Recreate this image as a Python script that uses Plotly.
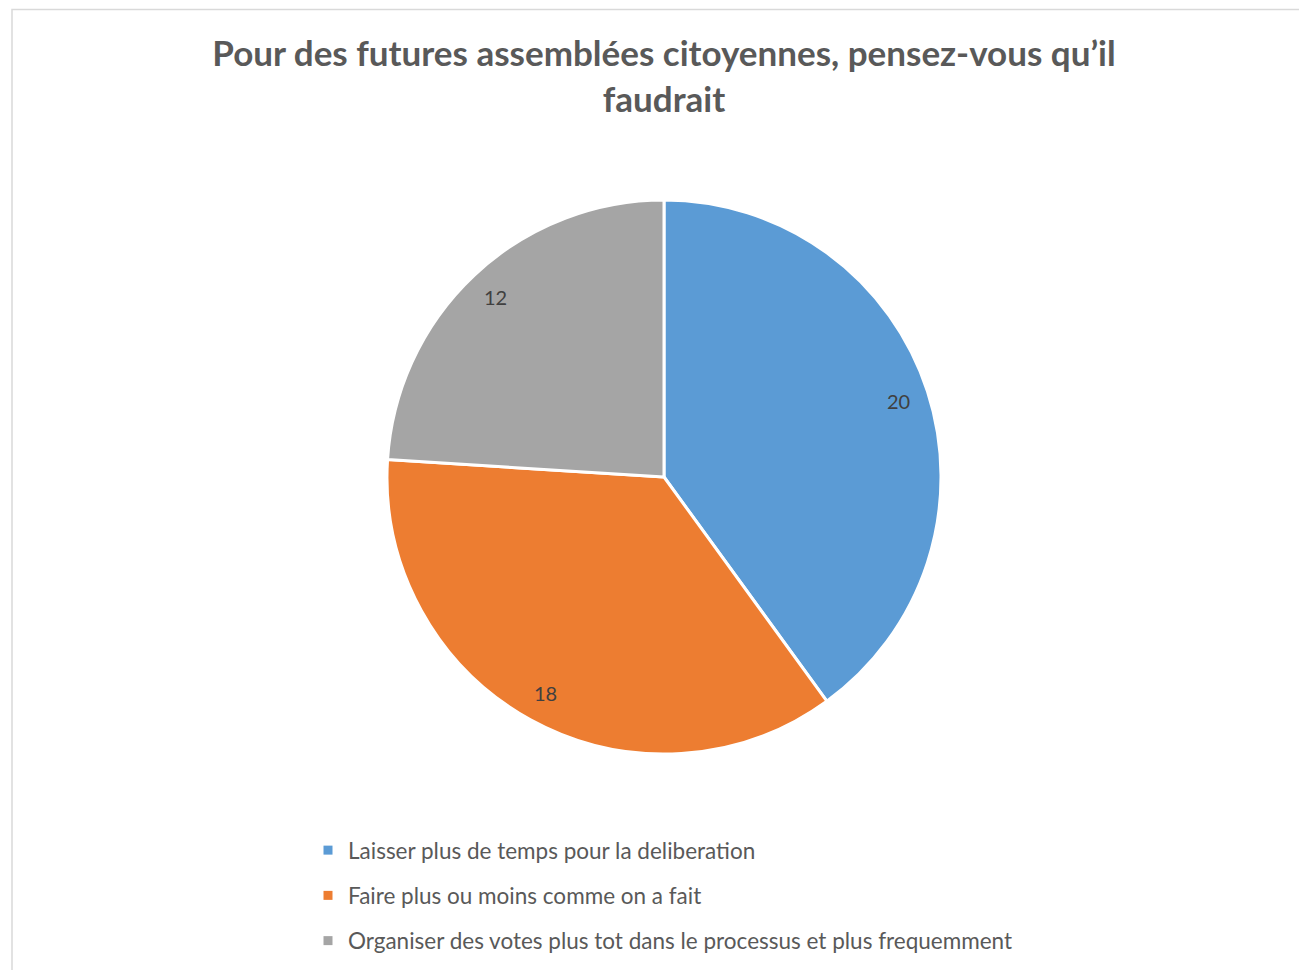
import math
import plotly.graph_objects as go

# ---- data ----
categories = [
    "Laisser plus de temps pour la deliberation",
    "Faire plus ou moins comme on a fait",
    "Organiser des votes plus tot dans le processus et plus frequemment",
]
values = [20, 18, 12]
colors = ["#5B9BD5", "#ED7D31", "#A5A5A5"]
title_text = "Pour des futures assemblées citoyennes, pensez-vous qu’il<br>faudrait"

# ---- layout constants (pixels) ----
W, H = 1299, 970
CX, CY, R = 664, 477, 277
FONT = "Lato, 'Open Sans', sans-serif"
TXT = "#595959"


def px(x):
    return x / W


def py(y):
    return 1 - y / H


fig = go.Figure()

fig.add_trace(go.Pie(
    labels=categories,
    values=values,
    sort=False,
    direction="clockwise",
    rotation=0,
    marker=dict(colors=colors, line=dict(color="white", width=3)),
    textinfo="none",
    hoverinfo="label+value",
    showlegend=False,
    domain=dict(x=[px(CX - R), px(CX + R)], y=[py(CY + R), py(CY - R)]),
))

# legend entries (one group each so the gap can be set)
for i, (cat, col) in enumerate(zip(categories, colors)):
    fig.add_trace(go.Scatter(
        x=[None], y=[None], mode="markers", name=cat,
        marker=dict(symbol="square", size=9, color=col),
        legendgroup=f"g{i}", showlegend=True, hoverinfo="skip",
    ))

# value labels placed along each slice's mid-angle
total = sum(values)
cum = 0
annotations = []
for v in values:
    theta = 2 * math.pi * (cum + v / 2) / total
    cum += v
    lx = CX + 0.89 * R * math.sin(theta)
    ly = CY - 0.89 * R * math.cos(theta)
    annotations.append(dict(
        x=px(lx), y=py(ly), xref="paper", yref="paper",
        text=str(v), showarrow=False,
        font=dict(family=FONT, size=20, color="#404040"),
        xanchor="center", yanchor="middle",
    ))

fig.update_layout(
    width=W, height=H,
    margin=dict(l=0, r=0, t=0, b=0),
    paper_bgcolor="white", plot_bgcolor="white",
    title=dict(
        text=title_text,
        x=px(664), xanchor="center",
        y=py(66), yanchor="top",
        font=dict(family=FONT, size=35, color=TXT, weight="bold"),
    ),
    xaxis=dict(visible=False), yaxis=dict(visible=False),
    legend=dict(
        x=px(308), xanchor="left",
        y=py(829), yanchor="top",
        font=dict(family=FONT, size=22.5, color=TXT),
        tracegroupgap=13,
        bgcolor="rgba(0,0,0,0)",
    ),
    annotations=annotations,
    shapes=[dict(
        type="rect", xref="paper", yref="paper",
        x0=px(12), x1=1.05, y0=-0.05, y1=py(9.5),
        line=dict(color="#D9D9D9", width=1.5),
        fillcolor="rgba(0,0,0,0)", layer="below",
    )],
)

fig.write_html("out.html", config={"displayModeBar": False},
               post_script="document.body.style.margin='0';")
